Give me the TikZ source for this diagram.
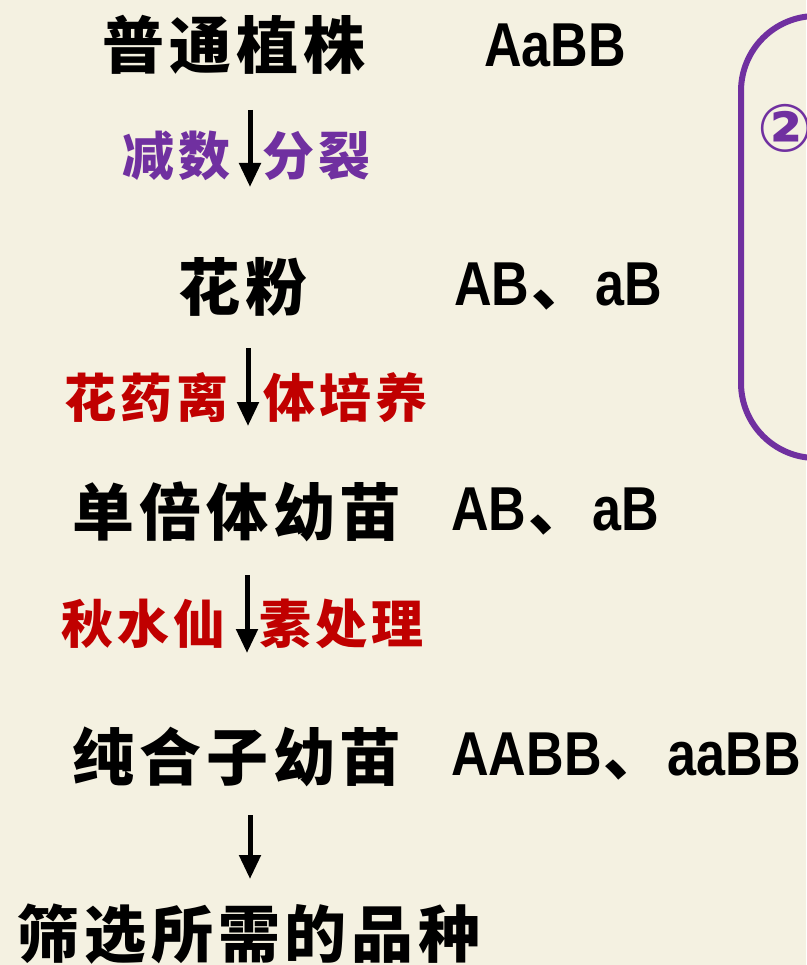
\documentclass[tikz,border=0pt]{standalone}
\usepackage{fontspec}
\usepackage{graphicx}
\usetikzlibrary{arrows.meta}
\newfontfamily\cjk[LetterSpace=8]{Noto Sans CJK SC}
\newfontfamily\latinb{Liberation Sans}
\newfontfamily\symb{DejaVu Sans}
\definecolor{bgc}{HTML}{F4F1E1}
\definecolor{purp}{HTML}{7030A0}
\definecolor{redc}{HTML}{C00000}
\newcommand{\lat}[1]{\scalebox{0.84}[1]{\latinb\bfseries #1}}
\newcommand{\dun}{{\cjk\bfseries\hspace{2pt}、\hspace{2pt}}}
\tikzset{
  main/.style={inner sep=0pt, anchor=west, font=\cjk\bfseries\fontsize{62}{62}\selectfont},
  gene/.style={inner sep=0pt, anchor=west, font=\fontsize{62}{62}\selectfont},
  lblL/.style={inner sep=0pt, anchor=east, font=\cjk\bfseries\fontsize{52}{52}\selectfont},
  lblR/.style={inner sep=0pt, anchor=west, font=\cjk\bfseries\fontsize{52}{52}\selectfont},
  flow/.style={line width=5pt, -{Triangle[width=21pt,length=24pt]}},
}
\begin{document}
\begin{tikzpicture}[x=1pt,y=-1pt]
\useasboundingbox (0,0) rectangle (806,965);
\fill[bgc] (0,0) rectangle (806,965);
% right purple frame
\draw[purp, line width=6pt, rounded corners=75pt] (741,16) rectangle (980,458);
\node[inner sep=0pt, anchor=west, text=purp, font=\symb\bfseries\fontsize{66}{66}\selectfont] (c2) at (757,128) {②};
% main lines
\node[main] (p1) at (102,45) {普通植株};
\node[gene] (g1) at (484,45) {\lat{AaBB}};
\node[main] (p2) at (178,287) {花粉};
\node[gene] (g2) at (454,287) {\lat{AB}\dun\lat{aB}};
\node[main] (p3) at (72,512) {单倍体幼苗};
\node[gene] (g3) at (451,512) {\lat{AB}\dun\lat{aB}};
\node[main] (p4) at (72,757) {纯合子幼苗};
\node[gene] (g4) at (451,757) {\lat{AABB}\dun\lat{aaBB}};
\node[main] (p5) at (17,934) {筛选所需的品种};
% labels
\node[lblL, text=purp] (l1a) at (231,156) {减数};
\node[lblR, text=purp] (l1b) at (262,156) {分裂};
\node[lblL, text=redc] (l2a) at (229,398) {花药离};
\node[lblR, text=redc] (l2b) at (263,398) {体培养};
\node[lblL, text=redc] (l3a) at (226,624) {秋水仙};
\node[lblR, text=redc] (l3b) at (259,624) {素处理};
% arrows
\coordinate (a1s) at (250,110); \coordinate (a1e) at (250,187);
\coordinate (a2s) at (248,348); \coordinate (a2e) at (248,426);
\coordinate (a3s) at (247,575); \coordinate (a3e) at (247,653);
\coordinate (a4s) at (250,815); \coordinate (a4e) at (250,879);
\draw[flow] (a1s) -- (a1e);
\draw[flow] (a2s) -- (a2e);
\draw[flow] (a3s) -- (a3e);
\draw[flow] (a4s) -- (a4e);
\end{tikzpicture}
\end{document}
